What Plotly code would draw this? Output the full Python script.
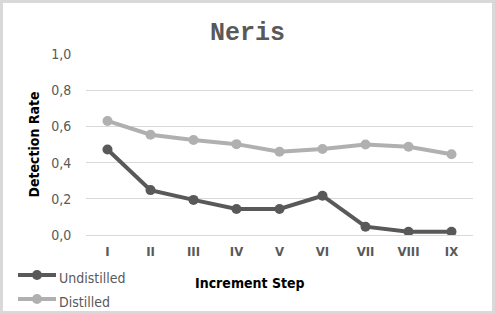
import plotly.graph_objects as go

steps = ["I", "II", "III", "IV", "V", "VI", "VII", "VIII", "IX"]
undistilled = [0.472, 0.248, 0.194, 0.144, 0.144, 0.217, 0.046, 0.018, 0.018]
distilled = [0.630, 0.554, 0.525, 0.502, 0.460, 0.475, 0.500, 0.488, 0.446]

W, H = 495, 314
L, R, T, B = 86, 22, 54, 79
pw, ph = W - L - R, H - T - B

def px_x(p):
    return (p - L) / pw

def px_y(p):
    return (H - B - p) / ph

fig = go.Figure()
fig.add_trace(go.Scatter(x=steps, y=undistilled, name="Undistilled", mode="lines+markers",
                         line=dict(color="#595959", width=4), marker=dict(size=10, color="#595959"),
                         showlegend=False))
fig.add_trace(go.Scatter(x=steps, y=distilled, name="Distilled", mode="lines+markers",
                         line=dict(color="#b0b0b0", width=4), marker=dict(size=10, color="#b0b0b0"),
                         showlegend=False))

# manual legend (kept within the margin)
for name, color, yp in [("Undistilled", "#595959", 275), ("Distilled", "#b0b0b0", 299)]:
    fig.add_shape(type="line", xref="paper", yref="paper",
                  x0=px_x(18), x1=px_x(56), y0=px_y(yp), y1=px_y(yp),
                  line=dict(color=color, width=4))
    fig.add_shape(type="circle", xref="paper", yref="paper",
                  x0=px_x(32), x1=px_x(42), y0=px_y(yp + 5), y1=px_y(yp - 5),
                  line=dict(color=color, width=0), fillcolor=color)
    fig.add_annotation(text=name, xref="paper", yref="paper", x=px_x(57), y=px_y(yp + 3),
                       xanchor="left", yanchor="middle", showarrow=False,
                       font=dict(family="DejaVu Sans Condensed", size=14, color="#595959"))

# x-axis title, centred on the whole chart as in the reference
fig.add_annotation(text="<b>Increment Step</b>", xref="paper", yref="paper",
                   x=px_x(250), y=px_y(283), xanchor="center", yanchor="middle", showarrow=False,
                   font=dict(family="DejaVu Sans Condensed", size=14, color="black"))

fig.add_shape(type="rect", xref="paper", yref="paper",
              x0=px_x(1.5), x1=px_x(W - 1.5), y0=px_y(H - 1.5), y1=px_y(1.5),
              line=dict(color="#d9d9d9", width=3), fillcolor="rgba(0,0,0,0)", layer="below")

fig.update_layout(
    width=W, height=H,
    margin=dict(l=L, r=R, t=T, b=B, autoexpand=False),
    paper_bgcolor="white", plot_bgcolor="white",
    separators=",.",
    showlegend=False,
    title=dict(text="<b>Neris</b>", x=0.5, xref="container", xanchor="center",
               y=1 - 31 / H, yanchor="middle",
               font=dict(family="Liberation Mono", size=25, color="#595959")),
    xaxis=dict(type="category", range=[-0.5, 8.5], showgrid=False, showline=False, zeroline=False,
               automargin=False, ticks="outside", ticklen=4, tickcolor="rgba(0,0,0,0)",
               tickfont=dict(family="DejaVu Sans Condensed", size=13, color="#595959", weight="bold")),
    yaxis=dict(range=[0, 1.0], dtick=0.2, tickformat=".1f", showgrid=True, gridcolor="#d9d9d9",
               gridwidth=1, zeroline=True, zerolinecolor="#d9d9d9", zerolinewidth=1, showline=False,
               automargin=False, ticks="outside", ticklen=11, tickcolor="rgba(0,0,0,0)",
               tickfont=dict(family="DejaVu Sans Condensed", size=14, color="#595959"),
               title=dict(text="<b>Detection Rate</b>", standoff=8,
                          font=dict(family="DejaVu Sans Condensed", size=14, color="black"))),
)

fig.write_html("out.html", config={"displayModeBar": False})
with open("out.html", "r", encoding="utf-8") as f:
    html = f.read()
html = html.replace("<head>", "<head><style>html,body{margin:0;padding:0;overflow:hidden;}</style>", 1)
with open("out.html", "w", encoding="utf-8") as f:
    f.write(html)
